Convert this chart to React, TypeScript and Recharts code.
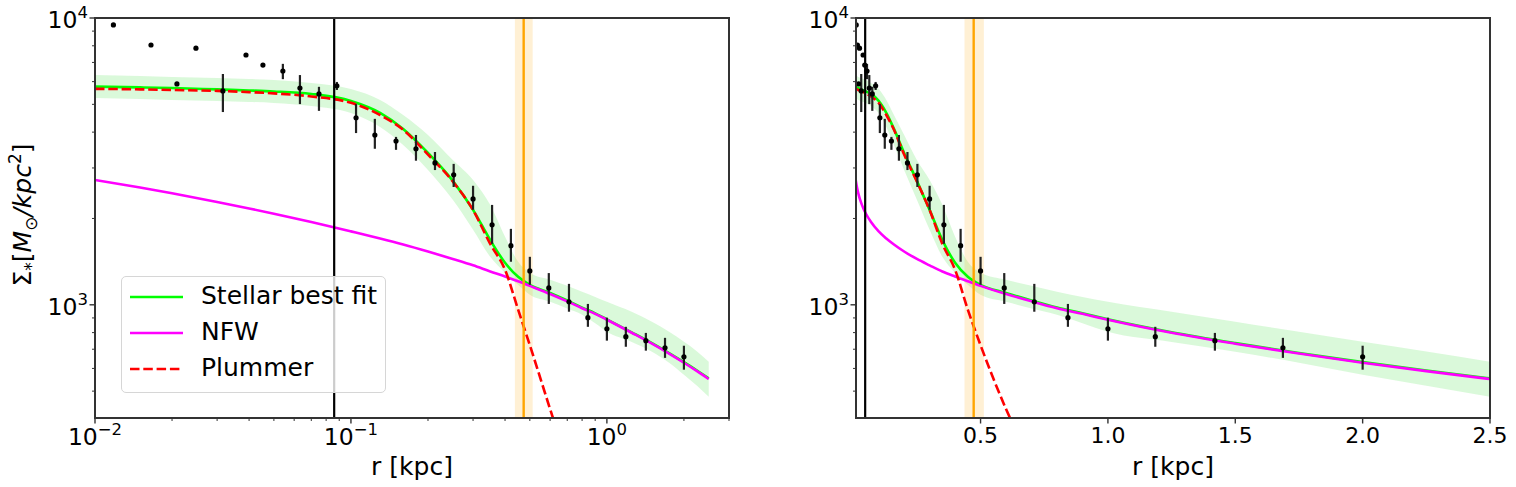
import {
  ComposedChart,
  Line,
  Area,
  Scatter,
  ErrorBar,
  XAxis,
  YAxis,
  ReferenceLine,
  ReferenceArea,
} from "recharts";

// radius samples for the fitted curves (kpc)
const CURVE_R = [
  0.01, 0.015, 0.02, 0.03, 0.04, 0.05, 0.07, 0.1, 0.13, 0.16, 0.2, 0.25, 0.3, 0.35, 0.4, 0.45, 0.5, 0.6, 0.7,
  0.8, 0.9, 1.0, 1.25, 1.5, 1.75, 2.0, 2.25, 2.5,
];
const STELLAR_FIT = [
  5764, 5730, 5700, 5636, 5590, 5546, 5435, 5140, 4670, 4105, 3385, 2705, 2143, 1683, 1401, 1252, 1174, 1100, 1035,
  978, 934, 890, 802, 735, 679, 631, 590, 554,
];
const NFW = [
  2723, 2563, 2447, 2284, 2167, 2077, 1944, 1803, 1703, 1623, 1534, 1445, 1373, 1307, 1255, 1208, 1164, 1091, 1028,
  973, 930, 887, 799, 732, 676, 628, 587, 551,
];
const PLUMMER = [
  5663, 5640, 5610, 5570, 5515, 5460, 5325, 5060, 4590, 4075, 3340, 2690, 2140, 1631, 1325, 962, 723, 433, 283,
  null, null, null, null, null, null, null, null, null,
];
const BAND_LOW = [
  5264, 5222, 5181, 5139, 5098, 5057, 4937, 4667, 4172, 3610, 2954, 2322, 1826, 1470, 1293, 1174, 1083, 1024, 970,
  923, 862, 805, 742, 686, 628, 570, 522, 478,
];
const BAND_HIGH = [
  6330, 6280, 6229, 6179, 6130, 6081, 5936, 5656, 5181, 4592, 3912, 3201, 2726, 2231, 1726, 1412, 1293, 1222, 1165,
  1110, 1065, 1024, 945, 873, 805, 743, 688, 633,
];

// measured surface density points
const POINT_R = [
  0.0118, 0.01655, 0.0209, 0.0248, 0.0316, 0.0389, 0.0453, 0.0542, 0.0632, 0.075, 0.0881, 0.1047, 0.124, 0.15,
  0.1795, 0.213, 0.252, 0.3, 0.356, 0.4217, 0.5, 0.593, 0.711, 0.843, 1.0, 1.186, 1.42, 1.687, 2.0,
];
const POINT_SIGMA = [
  9460, 8050, 5890, 7850, 5570, 7430, 6855, 6535, 5700, 5435, 5800, 4490, 3908, 3725, 3500, 3125, 2840, 2340, 1900,
  1607, 1313, 1145, 1024, 902, 825, 774, 750, 708, 659,
];
const POINT_HIGH = [
  9460, 8050, 5890, 7850, 6380, 7430, 6855, 6920, 6325, 5755, 5985, 5010, 4450, 3850, 3910, 3410, 3100, 2600, 2230,
  1840, 1470, 1290, 1183, 1007, 902, 838, 798, 767, 720,
];
const POINT_LOW = [
  9460, 8050, 5890, 7850, 4700, 7430, 6855, 6120, 5010, 4745, 5610, 3970, 3500, 3470, 3180, 2950, 2575, 2145, 1632,
  1413, 1175, 1007, 946, 838, 750, 714, 692, 653, 594,
];

const LEFT_X_MAJOR = [0.01, 0.1, 1];
const LEFT_X_MINOR = [0.02, 0.03, 0.04, 0.05, 0.06, 0.07, 0.08, 0.09, 0.2, 0.3, 0.4, 0.5, 0.6, 0.7, 0.8, 0.9, 2, 3];
const RIGHT_X_TICKS = [0.5, 1.0, 1.5, 2.0, 2.5];
const Y_MAJOR = [1000, 10000];
const Y_MINOR = [500, 600, 700, 800, 900, 2000, 3000, 4000, 5000, 6000, 7000, 8000, 9000];

const LEFT_VLINE = 0.086;
const RIGHT_VLINE = 0.047;
const HALF_LIGHT = 0.473;
const HALF_LIGHT_LO = 0.437;
const HALF_LIGHT_HI = 0.513;

const curveData = CURVE_R.map((r, i) => ({
  r,
  stellar: STELLAR_FIT[i],
  nfw: NFW[i],
  plummer: PLUMMER[i],
  band: [BAND_LOW[i], BAND_HIGH[i]],
}));

const pointData = POINT_R.map((r, i) => ({
  r,
  sigma: POINT_SIGMA[i],
  err: [POINT_SIGMA[i] - POINT_LOW[i], POINT_HIGH[i] - POINT_SIGMA[i]],
}));

const FONT = "DejaVu Sans";
const SPINE = "#333";

function expLabel(v: number) {
  const e = Math.round(Math.log10(v));
  return e < 0 ? "\u2212" + Math.abs(e) : String(e);
}

function LogXTick({ x, y, payload }: any) {
  const v = payload.value;
  const major = LEFT_X_MAJOR.includes(v);
  return (
    <g>
      <line x1={x} x2={x} y1={y} y2={y + (major ? 5.5 : 3)} stroke={SPINE} strokeWidth={major ? 1.4 : 1} />
      {major && (
        <text x={x} y={y + 27} textAnchor="middle" fontSize={23.5} fontFamily={FONT} fill="#000">
          10
          <tspan dy={-10} fontSize={16.5}>
            {expLabel(v)}
          </tspan>
        </text>
      )}
    </g>
  );
}

function LinXTick({ x, y, payload }: any) {
  return (
    <g>
      <line x1={x} x2={x} y1={y} y2={y + 5.5} stroke={SPINE} strokeWidth={1.4} />
      <text x={x} y={y + 25} textAnchor="middle" fontSize={22} fontFamily={FONT} fill="#000">
        {Number(payload.value).toFixed(1)}
      </text>
    </g>
  );
}

function LogYTick({ x, y, payload }: any) {
  const v = payload.value;
  const major = Y_MAJOR.includes(v);
  return (
    <g>
      <line x1={x} x2={x - (major ? 5.5 : 3)} y1={y} y2={y} stroke={SPINE} strokeWidth={major ? 1.4 : 1} />
      {major && (
        <text x={x - 7} y={y + 10} textAnchor="end" fontSize={23.5} fontFamily={FONT} fill="#000">
          10
          <tspan dy={-10} fontSize={16.5}>
            {expLabel(v)}
          </tspan>
        </text>
      )}
    </g>
  );
}

const dot = (p: any) => <circle cx={p.cx} cy={p.cy} r={2.6} fill="#000" />;

function Panel({ log, vline, width, yWidth, right, xLabelX }: any) {
  return (
    <ComposedChart width={width} height={487} margin={{ top: 18, right, left: 0, bottom: 0 }}>
      <XAxis
        dataKey="r"
        type="number"
        scale={log ? "log" : "linear"}
        domain={log ? [0.01, 3] : [0.011, 2.5]}
        allowDataOverflow
        ticks={log ? [...LEFT_X_MAJOR, ...LEFT_X_MINOR] : RIGHT_X_TICKS}
        interval={0}
        tick={log ? <LogXTick /> : <LinXTick />}
        tickLine={false}
        tickSize={0}
        tickMargin={0}
        axisLine={false}
        height={69}
        label={{
          content: () => (
            <text x={xLabelX} y={475} textAnchor="middle" fontSize={25} fontFamily={FONT} fill="#000">
              r [kpc]
            </text>
          ),
        }}
      />
      <YAxis
        type="number"
        scale="log"
        domain={[403, 10000]}
        allowDataOverflow
        ticks={[...Y_MAJOR, ...Y_MINOR]}
        interval={0}
        tick={<LogYTick />}
        tickLine={false}
        tickSize={0}
        tickMargin={0}
        axisLine={false}
        width={yWidth}
        label={
          log
            ? {
                content: () => (
                  <text
                    x={31}
                    y={215}
                    transform="rotate(-90 31 215)"
                    textAnchor="middle"
                    fontSize={25}
                    fontFamily={FONT}
                    fill="#000"
                  >
                    Σ
                    <tspan dy={6} fontSize={17}>*</tspan>
                    <tspan dy={-6}>[</tspan>
                    <tspan fontStyle="italic">M</tspan>
                    <tspan dy={6} fontSize={17}>⊙</tspan>
                    <tspan dy={-6} fontStyle="italic">/kpc</tspan>
                    <tspan dy={-10} fontSize={17}>2</tspan>
                    <tspan dy={10}>]</tspan>
                  </text>
                ),
              }
            : undefined
        }
      />
      <Area
        data={curveData}
        dataKey="band"
        type="monotone"
        stroke="none"
        fill="#90ee90"
        fillOpacity={0.33}
        isAnimationActive={false}
      />
      <Line
        data={curveData}
        dataKey="stellar"
        type="monotone"
        stroke="#00ff00"
        strokeWidth={2.6}
        dot={false}
        activeDot={false}
        isAnimationActive={false}
      />
      <Line
        data={curveData}
        dataKey="nfw"
        type="monotone"
        stroke="#ff00ff"
        strokeWidth={2.6}
        dot={false}
        activeDot={false}
        isAnimationActive={false}
      />
      <Line
        data={curveData}
        dataKey="plummer"
        type="monotone"
        stroke="#ff0000"
        strokeWidth={2.6}
        strokeDasharray="9.5 3.8"
        dot={false}
        activeDot={false}
        isAnimationActive={false}
      />
      <Scatter data={pointData} dataKey="sigma" shape={dot} isAnimationActive={false}>
        <ErrorBar dataKey="err" direction="y" width={0} stroke="#222" strokeWidth={2.2} />
      </Scatter>
      <ReferenceArea x1={HALF_LIGHT_LO} x2={HALF_LIGHT_HI} fill="#ffa500" fillOpacity={0.17} stroke="none" />
      <ReferenceLine x={HALF_LIGHT} stroke="#ffa500" strokeWidth={2.4} />
      <ReferenceLine x={vline} stroke="#000" strokeWidth={2.2} />
    </ComposedChart>
  );
}

const frame = (left: number): React.CSSProperties => ({
  position: "absolute",
  left,
  top: 17,
  width: 636,
  height: 402,
  boxSizing: "border-box",
  border: `2px solid ${SPINE}`,
  pointerEvents: "none",
});

const LEGEND = [
  { name: "Stellar best fit", color: "#00ff00", dash: undefined },
  { name: "NFW", color: "#ff00ff", dash: undefined },
  { name: "Plummer", color: "#ff0000", dash: "9.5 3.8" },
];

export default function App() {
  return (
    <div style={{ position: "absolute", left: 0, top: 0, width: 1516, height: 487, background: "#fff" }}>
      <div style={{ position: "absolute", left: 0, top: 0 }}>
        <Panel log vline={LEFT_VLINE} width={760} yWidth={95} right={31} xLabelX={412} />
      </div>
      <div style={{ position: "absolute", left: 760, top: 0 }}>
        <Panel log={false} vline={RIGHT_VLINE} width={756} yWidth={96} right={26} xLabelX={413} />
      </div>
      <div style={frame(94)} />
      <div style={frame(855)} />

      {/* Legend */}
      <div
        style={{
          position: "absolute",
          left: 121,
          top: 276,
          width: 265,
          height: 117,
          boxSizing: "border-box",
          border: "1px solid #d6d6d6",
          borderRadius: 5,
          background: "rgba(255,255,255,0.8)",
          fontFamily: FONT,
          fontSize: 25,
        }}
      >
        {LEGEND.map((item, i) => (
          <div key={item.name} style={{ position: "absolute", left: 0, top: 3 + i * 36, height: 36, width: 263 }}>
            <svg width={70} height={36} style={{ position: "absolute", left: 0, top: 0 }}>
              <line
                x1={8}
                x2={61}
                y1={17}
                y2={17}
                stroke={item.color}
                strokeWidth={2.6}
                strokeDasharray={item.dash}
              />
            </svg>
            <span style={{ position: "absolute", left: 79, top: 1, lineHeight: "30px", color: "#000" }}>
              {item.name}
            </span>
          </div>
        ))}
      </div>
    </div>
  );
}
